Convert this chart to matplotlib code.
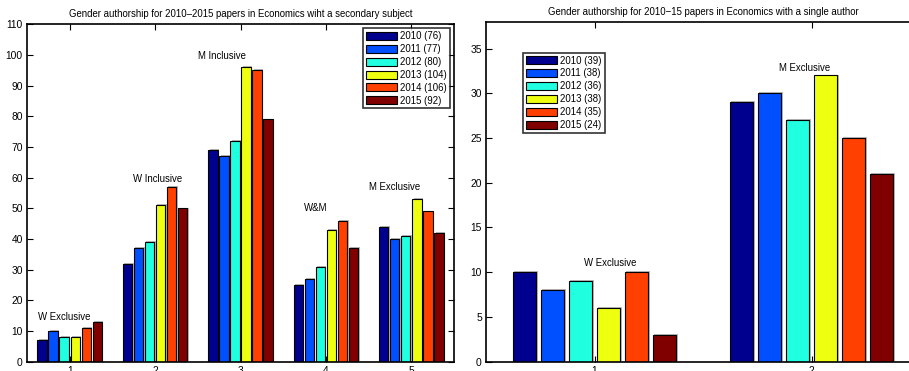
import matplotlib
matplotlib.use("Agg")
import matplotlib.pyplot as plt
import matplotlib.patheffects as pe
import numpy as np

plt.rcParams['font.family'] = ['Liberation Sans', 'DejaVu Sans']

years = ['2010', '2011', '2012', '2013', '2014', '2015']
colors = ['#00008F', '#0050FF', '#20FFE0', '#EFFF10', '#FF4000', '#800000']

# Left chart: secondary subject
left_counts = [76, 77, 80, 104, 106, 92]
left_groups = [1, 2, 3, 4, 5]
left_values = {
    '2010': [7, 32, 69, 25, 44],
    '2011': [10, 37, 67, 27, 40],
    '2012': [8, 39, 72, 31, 41],
    '2013': [8, 51, 96, 43, 53],
    '2014': [11, 57, 95, 46, 49],
    '2015': [13, 50, 79, 37, 42],
}
left_labels = ['W Exclusive', 'W Inclusive', 'M Inclusive', 'W&M', 'M Exclusive']
left_label_pos = [(0.94, 14.6), (2.03, 59.6), (2.78, 99.7), (3.88, 50.2), (4.8, 57)]

# Right chart: single author
right_counts = [39, 38, 36, 38, 35, 24]
right_groups = [1, 2]
right_values = {
    '2010': [10, 29],
    '2011': [8, 30],
    '2012': [9, 27],
    '2013': [6, 32],
    '2014': [10, 25],
    '2015': [3, 21],
}
right_labels = ['W Exclusive', 'M Exclusive']
right_label_pos = [(1.07, 11.0), (1.97, 32.8)]

W, H = 909, 371
fig = plt.figure(figsize=(W / 100, H / 100), dpi=100)

def px_axes(l, r, t, b):
    return fig.add_axes([l / W, 1 - b / H, (r - l) / W, (b - t) / H])

ax1 = px_axes(27, 454, 24.3, 361.7)
ax2 = px_axes(486, 486 + 434, 21.7, 361.7)

slot = 0.775 / 6
bw = slot * 0.85
shadow = [pe.SimplePatchShadow(offset=(1.0, 0.6), shadow_rgbFace='0.72', alpha=1.0), pe.Normal()]

def draw(ax, groups, values, counts, labels, label_pos, ylim, yticks, legend_anchor, legend_loc, title):
    x = np.array(groups, dtype=float)
    for i, y in enumerate(years):
        ax.bar(x + (i - 2.5) * slot, values[y], width=bw, color=colors[i],
               edgecolor='black', linewidth=0.8, path_effects=shadow,
               label=f'{y} ({counts[i]})', zorder=2)
    for txt, (tx, ty) in zip(labels, label_pos):
        ax.text(tx, ty, txt, ha='center', va='center', fontsize=6.9)
    ax.set_xlim(0.5, len(groups) + 0.5)
    ax.set_ylim(*ylim)
    ax.set_xticks(groups)
    ax.set_yticks(yticks)
    ax.tick_params(direction='in', length=4, width=0.8, labelsize=7.4,
                   top=True, right=True, pad=3)
    for s in ax.spines.values():
        s.set_linewidth(1.2)
    ax.set_title(title, fontsize=6.9, pad=5)
    leg = ax.legend(loc=legend_loc, bbox_to_anchor=legend_anchor, fontsize=6.9,
                    frameon=True, fancybox=False, handlelength=3.3, handleheight=0.9,
                    borderpad=0.3, labelspacing=0.3, handletextpad=0.3,
                    borderaxespad=0.0)
    leg.get_frame().set_edgecolor('black')
    leg.get_frame().set_linewidth(1.2)
    for p in leg.get_patches():
        p.set_path_effects([])
    return leg

draw(ax1, left_groups, left_values, left_counts, left_labels, left_label_pos,
     (0, 110), list(range(0, 111, 10)), (0.9906, 0.988), 'upper right',
     'Gender authorship for 2010\u20132015 papers in Economics wiht a secondary subject')
draw(ax2, right_groups, right_values, right_counts, right_labels, right_label_pos,
     (0, 38), list(range(0, 36, 5)), (0.085, 0.909), 'upper left',
     'Gender authorship for 2010\u221215 papers in Economics with a single author')

fig.savefig('out.png', dpi=100)
